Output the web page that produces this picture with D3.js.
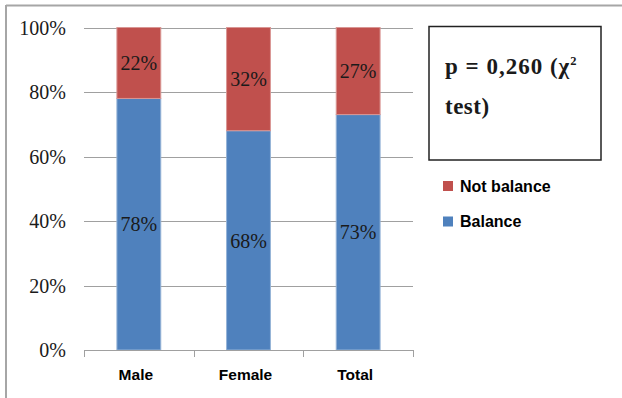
<!DOCTYPE html>
<html>
<head>
<meta charset="utf-8">
<script src="https://cdn.jsdelivr.net/npm/d3@7"></script>
<style>
  html, body { margin: 0; padding: 0; background: #fff; }
  svg { display: block; }
</style>
</head>
<body>
<svg id="chart" width="622" height="398"></svg>
<script>
// Share of respondents by group, in percent
const categories = ["Male", "Female", "Total"];
const balance = [78, 68, 73];
const notBalance = [22, 32, 27];
const yTicks = [0, 20, 40, 60, 80, 100];
const seriesNames = ["Not balance", "Balance"];
const seriesColors = ["#C0504D", "#4F81BD"];
const seriesEdges = ["#D99694", "#95B3D7"];
const statLine1 = "p = 0,260 (χ";
const statSup = "2";
const statLine2 = "test)";

const svg = d3.select("#chart");

// outer frame (top and left edges)
svg.append("line").attr("x1", 6).attr("x2", 622).attr("y1", 5.5).attr("y2", 5.5)
  .attr("stroke", "#A6A6A6").attr("stroke-width", 2);
svg.append("line").attr("x1", 6).attr("x2", 6).attr("y1", 5).attr("y2", 398)
  .attr("stroke", "#A6A6A6").attr("stroke-width", 2);

const plot = { left: 84, right: 413, top: 27.5, bottom: 350 };

const x = d3.scaleBand().domain(categories).range([plot.left, plot.right]).padding(0);
const y = d3.scaleLinear().domain([0, 100]).range([plot.bottom, plot.top]);
const barW = x.bandwidth() * 0.4;

// gridlines
svg.append("g").selectAll("line").data(yTicks.filter(t => t > 0)).join("line")
  .attr("x1", plot.left).attr("x2", plot.right)
  .attr("y1", d => Math.round(y(d)) + 0.5).attr("y2", d => Math.round(y(d)) + 0.5)
  .attr("stroke", "#A0A0A0").attr("stroke-width", 1);

// y-axis labels
const yAxis = d3.axisLeft(y).tickValues(yTicks).tickFormat(d => d + "%").tickSize(0).tickPadding(0);
const gy = svg.append("g").attr("transform", `translate(66,0)`).call(yAxis);
gy.select(".domain").remove();
gy.selectAll("text")
  .attr("font-family", "'Liberation Serif', 'Times New Roman', serif")
  .attr("font-size", 20).attr("fill", "#1a1a1a").attr("dy", "0.34em");

// stacked bars
const rows = categories.map((c, i) => ({ cat: c, balance: balance[i], notBalance: notBalance[i] }));
const stack = d3.stack().keys(["balance", "notBalance"])(rows);
const colorOf = { balance: seriesColors[1], notBalance: seriesColors[0] };
const edgeOf = { balance: seriesEdges[1], notBalance: seriesEdges[0] };

stack.forEach(layer => {
  const g = svg.append("g");
  g.selectAll("rect").data(layer).join("rect")
    .attr("x", d => x(d.data.cat) + (x.bandwidth() - barW) / 2)
    .attr("width", barW)
    .attr("y", d => y(d[1]))
    .attr("height", d => y(d[0]) - y(d[1]))
    .attr("fill", colorOf[layer.key])
    .attr("stroke", edgeOf[layer.key]).attr("stroke-width", 1);
  g.selectAll("text").data(layer).join("text")
    .attr("x", d => x(d.data.cat) + x.bandwidth() / 2)
    .attr("y", d => (y(d[0]) + y(d[1])) / 2)
    .attr("dy", "0.36em")
    .attr("text-anchor", "middle")
    .attr("font-family", "'Liberation Serif', 'Times New Roman', serif")
    .attr("font-size", 20).attr("fill", "#1a1a1a")
    .text(d => d.data[layer.key] + "%");
});

// x axis
const xAxis = d3.axisBottom(x).tickSize(0).tickPadding(0);
const gx = svg.append("g").attr("transform", `translate(0,${plot.bottom})`).call(xAxis);
gx.select(".domain").remove();
gx.selectAll("text").attr("y", 30).attr("dx", -3)
  .attr("font-family", "'Liberation Sans', Arial, sans-serif")
  .attr("font-size", 15.5).attr("font-weight", "bold").attr("fill", "#000").attr("dy", 0);
svg.append("line").attr("x1", plot.left).attr("x2", plot.right)
  .attr("y1", plot.bottom + 0.5).attr("y2", plot.bottom + 0.5).attr("stroke", "#A0A0A0");
const boundaries = categories.map(c => x(c)).concat([plot.right]);
svg.append("g").selectAll("line").data(boundaries).join("line")
  .attr("x1", d => Math.round(d) + 0.5).attr("x2", d => Math.round(d) + 0.5)
  .attr("y1", plot.bottom).attr("y2", plot.bottom + 7)
  .attr("stroke", "#A0A0A0");

// statistics box
svg.append("rect").attr("x", 429).attr("y", 26.5).attr("width", 172).attr("height", 133.5)
  .attr("fill", "#fff").attr("stroke", "#222").attr("stroke-width", 1.5);
const statFont = "'Liberation Serif', 'Times New Roman', serif";
const st = svg.append("text").attr("x", 445).attr("y", 74)
  .attr("font-family", statFont)
  .attr("font-size", 23).attr("font-weight", "bold").attr("fill", "#1a1a1a")
  .attr("letter-spacing", 1);
st.append("tspan").text(statLine1);
st.append("tspan").attr("font-size", 12.5).attr("dy", -9).attr("dx", 0).text(statSup);
svg.append("text").attr("x", 445).attr("y", 114)
  .attr("font-family", statFont)
  .attr("font-size", 23).attr("font-weight", "bold").attr("fill", "#1a1a1a")
  .attr("letter-spacing", 0.5)
  .text(statLine2);

// legend
const legend = svg.append("g").selectAll("g").data(seriesNames).join("g")
  .attr("transform", (d, i) => `translate(443,${181 + i * 35.5})`);
legend.append("rect").attr("width", 10).attr("height", 10)
  .attr("fill", (d, i) => seriesColors[i]);
legend.append("text").attr("x", 17).attr("y", 10.5)
  .attr("font-family", "'Liberation Sans', Arial, sans-serif")
  .attr("font-size", 16).attr("font-weight", "bold").attr("fill", "#000")
  .text(d => d);
</script>
</body>
</html>
